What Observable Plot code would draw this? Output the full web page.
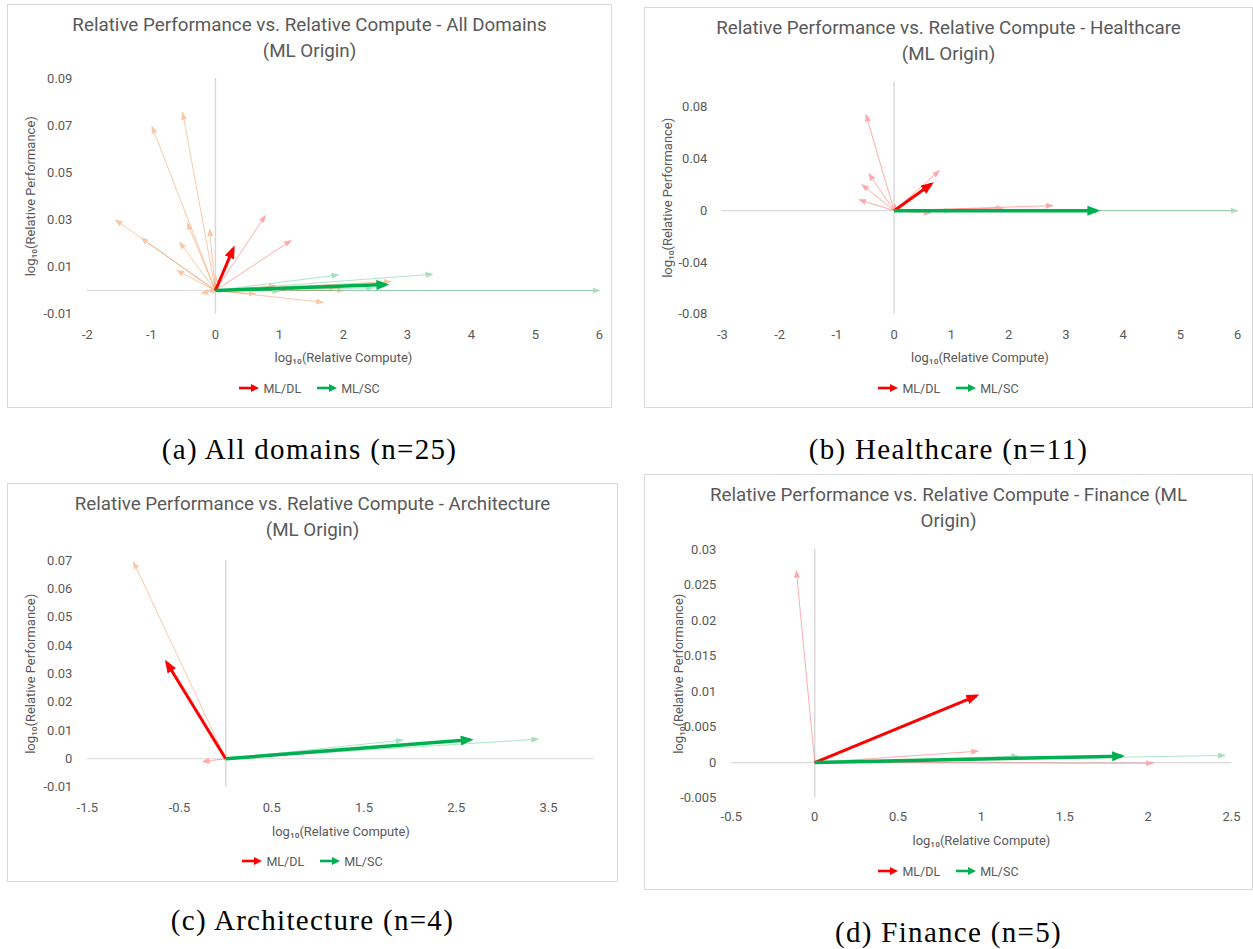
<!DOCTYPE html>
<html><head><meta charset="utf-8">
<script src="https://cdn.jsdelivr.net/npm/d3@7"></script>
<script src="https://cdn.jsdelivr.net/npm/@observablehq/plot@0.6"></script>
<style>
body{margin:0;background:#fff;width:1253px;height:949px;position:relative;overflow:hidden;font-family:Roboto,sans-serif}
.panel{position:absolute;box-sizing:border-box;border:1px solid #d9d9d9;background:#fff}
.title{position:absolute;left:0;right:0;text-align:center;color:#595959;font-size:18.8px;line-height:26px;white-space:nowrap}
.plot{position:absolute;left:-1px}
.legend{position:absolute;left:0;right:0;text-align:center;font-size:12.5px;line-height:14px;color:#595959;white-space:nowrap}
.legend .li{display:inline-block;margin:0 8px;vertical-align:middle}
.legend svg{vertical-align:middle;margin-right:3px;margin-top:-2px}
.caption{position:absolute;text-align:center;font-family:'Liberation Serif',serif;font-size:29px;letter-spacing:1.3px;line-height:32px;color:#000;white-space:nowrap}
</style></head><body>

<div class="panel" style="left:7px;top:4px;width:605px;height:404px">
  <div class="title" style="top:7px">Relative Performance vs. Relative Compute - All Domains<br>(ML Origin)</div>
  <div class="plot" id="plotA" style="top:55px"></div>
  <div class="legend" style="top:376px"></div>
</div>
<div class="panel" style="left:644px;top:7px;width:609px;height:401px">
  <div class="title" style="top:7px">Relative Performance vs. Relative Compute - Healthcare<br>(ML Origin)</div>
  <div class="plot" id="plotB" style="top:52px"></div>
  <div class="legend" style="top:373px"></div>
</div>
<div class="panel" style="left:7px;top:483px;width:611px;height:399px">
  <div class="title" style="top:7px">Relative Performance vs. Relative Compute - Architecture<br>(ML Origin)</div>
  <div class="plot" id="plotC" style="top:52px"></div>
  <div class="legend" style="top:370px"></div>
</div>
<div class="panel" style="left:644px;top:474px;width:609px;height:416px">
  <div class="title" style="top:7px">Relative Performance vs. Relative Compute - Finance (ML<br>Origin)</div>
  <div class="plot" id="plotD" style="top:50px"></div>
  <div class="legend" style="top:389px"></div>
</div>

<div class="caption" style="left:7px;width:605px;top:433px">(a) All domains (n=25)</div>
<div class="caption" style="left:644px;width:609px;top:433px">(b) Healthcare (n=11)</div>
<div class="caption" style="left:7px;width:611px;top:904px">(c) Architecture (n=4)</div>
<div class="caption" style="left:644px;width:609px;top:916px">(d) Finance (n=5)</div>

<script>
// ---------------- DATA (log10 relative compute, log10 relative performance) ----------------
const xLabel = "log₁₀(Relative Compute)";
const yLabel = "log₁₀(Relative Performance)";
const seriesNames = ["ML/DL", "ML/SC"];

// (a) All domains
const allDL = [[-0.51,0.0755],[-0.99,0.0696],[-1.56,0.030],[-1.16,0.0223],[-0.44,0.0287],[-0.09,0.026],[-0.56,0.0205],[-0.60,0.0085],[0.0,0.0065],[-0.22,-0.0012],[-0.13,-0.0003],[1.68,-0.005],[0.63,-0.0015],[2.74,0.0038],[0.94,0.0019],[1.88,0.0012],[2.0,0.0]];
const allDLPink = [[0.78,0.0318],[1.18,0.0212]];
const allSC = [[6.0,0.0],[1.0,-0.0002],[1.92,0.0066],[3.39,0.0069],[1.22,0.0009],[2.46,0.0011]];
const allMeanDL = [[0.28,0.0179]];
const allMeanSC = [[2.66,0.0025]];
const allXTicks = [-2,-1,0,1,2,3,4,5,6];
const allYTicks = [-0.01,0.01,0.03,0.05,0.07,0.09];

// (b) Healthcare
const hcDL = [[-0.49,0.0743],[-0.44,0.0286],[-0.56,0.0201],[-0.61,0.0085],[0.79,0.031],[2.77,0.0039],[1.9,0.002],[0.64,-0.0018],[0.02,0.005]];
const hcSC = [[6.0,0.0],[1.0,0.0]];
const hcMeanDL = [[0.65,0.0206]];
const hcMeanSC = [[3.54,0.0]];
const hcXTicks = [-3,-2,-1,0,1,2,3,4,5,6];
const hcYTicks = [-0.08,-0.04,0,0.04,0.08];

// (c) Architecture
const archDL = [[-1.0,0.0695]];
const archDLPink = [[-0.25,-0.001]];
const archSC = [[1.92,0.0066],[3.39,0.0069]];
const archMeanDL = [[-0.64,0.034]];
const archMeanSC = [[2.65,0.0067]];
const archXTicks = [-1.5,-0.5,0.5,1.5,2.5,3.5];
const archYTicks = [-0.01,0,0.01,0.02,0.03,0.04,0.05,0.06,0.07];

// (d) Finance
const finDL = [[-0.11,0.027],[0.98,0.0016],[2.03,-0.0001]];
const finSC = [[1.22,0.0009],[2.46,0.001]];
const finMeanDL = [[0.97,0.0094]];
const finMeanSC = [[1.84,0.0009]];
const finXTicks = [-0.5,0,0.5,1,1.5,2,2.5];
const finYTicks = [-0.005,0,0.005,0.01,0.015,0.02,0.025,0.03];

// ---------------- STYLES ----------------
const STY = {
  peach:     {stroke:"#ED7D31", opacity:0.42, width:1,   head:"#F7C9AA", hl:8,  hw:6},
  pink:      {stroke:"#FF0000", opacity:0.33, width:1,   head:"#FFAAAA", hl:8,  hw:6},
  green:     {stroke:"#00B050", opacity:0.33, width:1,   head:"#A6DFBE", hl:8,  hw:6},
  red:       {stroke:"#FF0000", opacity:1,    width:3,   head:"#FF0000", hl:13, hw:10},
  boldGreen: {stroke:"#00B050", opacity:1,    width:3.5, head:"#00B050", hl:13, hw:10}
};
const FONT = "Roboto, 'Open Sans', sans-serif";
const fmt = d => String(Math.round(d * 1e6) / 1e6);
const NS = "http://www.w3.org/2000/svg";

function makePlot(el, cfg) {
  const marks = [
    Plot.ruleY([0], {stroke: "#d9d9d9", strokeWidth: 1.2}),
    Plot.ruleX([0], {stroke: "#d9d9d9", strokeWidth: 1.5}),
    ...cfg.layers.map(l => Plot.link(l.data, {
      x1: () => 0, y1: () => 0, x2: d => d[0], y2: d => d[1],
      stroke: l.sty.stroke, strokeOpacity: l.sty.opacity, strokeWidth: l.sty.width
    }))
  ];
  const svg = Plot.plot({
    width: cfg.width, height: cfg.height,
    marginTop: cfg.mt, marginBottom: cfg.mb, marginLeft: cfg.ml, marginRight: cfg.mr,
    style: {fontFamily: FONT, fontSize: "13px", color: "#595959", background: "transparent", overflow: "visible"},
    x: {domain: cfg.xDomain, ticks: cfg.xTicks, tickFormat: fmt, tickSize: 0, tickPadding: cfg.xPad,
        label: xLabel, labelAnchor: "center", labelArrow: "none", labelOffset: cfg.xLabelOffset},
    y: {domain: cfg.yDomain, ticks: cfg.yTicks, tickFormat: fmt, tickSize: 0, tickPadding: 15,
        label: yLabel, labelAnchor: "center", labelArrow: "none", labelOffset: cfg.yLabelOffset},
    marks
  });
  // filled triangular arrow heads attached to the library's link paths
  const defs = document.createElementNS(NS, "defs");
  svg.insertBefore(defs, svg.firstChild);
  const groups = svg.querySelectorAll('g[aria-label="link"]');
  groups.forEach((g, i) => {
    const s = cfg.layers[i].sty;
    const id = `${cfg.id}-head-${i}`;
    const m = document.createElementNS(NS, "marker");
    const over = s.width * s.hl / s.hw * 0.8;
    m.setAttribute("id", id);
    m.setAttribute("viewBox", "0 0 10 10");
    m.setAttribute("preserveAspectRatio", "none");
    m.setAttribute("markerUnits", "userSpaceOnUse");
    m.setAttribute("markerWidth", s.hl);
    m.setAttribute("markerHeight", s.hw);
    m.setAttribute("refX", 10 - over / s.hl * 10);
    m.setAttribute("refY", 5);
    m.setAttribute("orient", "auto");
    const p = document.createElementNS(NS, "path");
    p.setAttribute("d", "M0,0L10,5L0,10Z");
    p.setAttribute("fill", s.head);
    p.setAttribute("stroke", "none");
    m.appendChild(p);
    defs.appendChild(m);
    g.querySelectorAll("path").forEach(path => path.setAttribute("marker-end", `url(#${id})`));
  });
  document.getElementById(el).appendChild(svg);
}

makePlot("plotA", {id: "a", width: 605, height: 312, mt: 18, mb: 58, ml: 80, mr: 12,
  xDomain: [-2, 6], yDomain: [-0.01, 0.09], xTicks: allXTicks, yTicks: allYTicks,
  xPad: 16, xLabelOffset: 48, yLabelOffset: 62,
  layers: [{data: allDL, sty: STY.peach}, {data: allDLPink, sty: STY.pink}, {data: allSC, sty: STY.green},
           {data: allMeanDL, sty: STY.red}, {data: allMeanSC, sty: STY.boldGreen}]});

makePlot("plotB", {id: "b", width: 609, height: 312, mt: 21, mb: 58, ml: 78, mr: 15,
  xDomain: [-3, 6], yDomain: [-0.08, 0.1], xTicks: hcXTicks, yTicks: hcYTicks,
  xPad: 16, xLabelOffset: 48, yLabelOffset: 60,
  layers: [{data: hcDL, sty: STY.pink}, {data: hcSC, sty: STY.green},
           {data: hcMeanDL, sty: STY.red}, {data: hcMeanSC, sty: STY.boldGreen}]});

makePlot("plotC", {id: "c", width: 611, height: 310, mt: 24, mb: 59, ml: 80, mr: 23,
  xDomain: [-1.5, 4], yDomain: [-0.01, 0.07], xTicks: archXTicks, yTicks: archYTicks,
  xPad: 16, xLabelOffset: 49, yLabelOffset: 62,
  layers: [{data: archDL, sty: STY.peach}, {data: archDLPink, sty: STY.pink}, {data: archSC, sty: STY.green},
           {data: archMeanDL, sty: STY.red}, {data: archMeanSC, sty: STY.boldGreen}]});

makePlot("plotD", {id: "d", width: 609, height: 330, mt: 24, mb: 57, ml: 87, mr: 21,
  xDomain: [-0.5, 2.5], yDomain: [-0.005, 0.03], xTicks: finXTicks, yTicks: finYTicks,
  xPad: 14, xLabelOffset: 47, yLabelOffset: 58,
  layers: [{data: finDL, sty: STY.pink}, {data: finSC, sty: STY.green},
           {data: finMeanDL, sty: STY.red}, {data: finMeanSC, sty: STY.boldGreen}]});

// legends
const legendColors = ["#FF0000", "#00B050"];
function arrowIcon(c) {
  return `<svg width="21" height="10" viewBox="0 0 21 10"><line x1="0" y1="5" x2="14" y2="5" stroke="${c}" stroke-width="2.6"/><path d="M12,1L20,5L12,9Z" fill="${c}"/></svg>`;
}
document.querySelectorAll(".legend").forEach(div => {
  div.innerHTML = seriesNames.map((n, i) => `<span class="li">${arrowIcon(legendColors[i])}${n}</span>`).join("");
});
</script>
</body></html>
